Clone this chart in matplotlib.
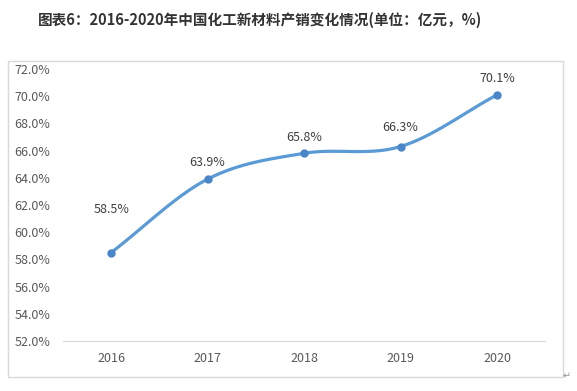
import matplotlib.pyplot as plt
import matplotlib.patches as patches
import numpy as np

plt.rcParams['font.family'] = ['Noto Sans CJK SC', 'DejaVu Sans']

years = ['2016', '2017', '2018', '2019', '2020']
ratio = [58.5, 63.9, 65.8, 66.3, 70.1]
label_offset = [26, 7, 7, 9, 7]  # label height above points (pt)

title = '图表6：2016-2020年中国化工新材料产销变化情况(单位：亿元，%)'


def catmull(xs, ys, n=30):
    # excel-like smoothed line
    px = [2 * xs[0] - xs[1]] + list(xs) + [2 * xs[-1] - xs[-2]]
    py = [2 * ys[0] - ys[1]] + list(ys) + [2 * ys[-1] - ys[-2]]
    ox, oy = [], []
    t = np.linspace(0, 1, n)
    for i in range(1, len(px) - 2):
        for P, out in ((px, ox), (py, oy)):
            p0, p1, p2, p3 = P[i - 1], P[i], P[i + 1], P[i + 2]
            out.extend(0.5 * (2 * p1 + (-p0 + p2) * t
                              + (2 * p0 - 5 * p1 + 4 * p2 - p3) * t ** 2
                              + (-p0 + 3 * p1 - 3 * p2 + p3) * t ** 3))
    return ox, oy


fig = plt.figure(figsize=(5.77, 3.91), dpi=100)
ax = fig.add_axes([0.109, 0.128, 0.836, 0.6955])

x = np.arange(len(years))
sx, sy = catmull(x, ratio)
ax.plot(sx, sy, color='#5B9BD5', lw=2.3, solid_capstyle='round', zorder=3)
ax.plot(x, ratio, 'o', color='#4A86C8', ms=5, zorder=4)

for i in range(len(years)):
    ax.annotate('%.1f%%' % ratio[i], (x[i], ratio[i]),
                xytext=(0, label_offset[i]), textcoords='offset points',
                ha='center', va='bottom', fontsize=9, color='#404040')

ax.set_xlim(-0.5, len(years) - 0.5)
ax.set_ylim(52, 72)
ax.set_yticks(np.arange(52, 72.1, 2))
ax.set_yticklabels(['%.1f%%' % v for v in np.arange(52, 72.1, 2)])
ax.set_xticks(x)
ax.set_xticklabels(years)
ax.tick_params(length=0, labelsize=9, colors='#595959')
ax.tick_params(axis='y', pad=9)
ax.tick_params(axis='x', pad=8)
for s in ['top', 'right', 'left']:
    ax.spines[s].set_visible(False)
ax.spines['bottom'].set_color('#d9d9d9')

# outer chart border
fig.patches.append(patches.Rectangle((8 / 577, 1 - 377 / 391), 555 / 577, 316 / 391,
                                     transform=fig.transFigure, fill=False,
                                     edgecolor='#d9d9d9', lw=1))

fig.text(260 / 577, 1 - 20 / 391, title, ha='center', va='center',
         fontsize=10.5, fontweight='bold', color='#333333')
fig.text(567 / 577, 1 - 376 / 391, '↵', ha='center', va='center',
         fontsize=7, color='#999999', family='DejaVu Sans')

fig.savefig('out.png', dpi=100)
